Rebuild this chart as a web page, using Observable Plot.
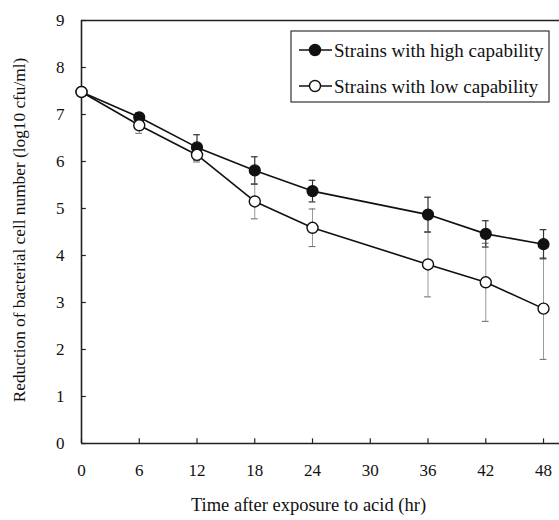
<!DOCTYPE html>
<html><head><meta charset="utf-8">
<script src="https://cdn.jsdelivr.net/npm/d3@7"></script>
<script src="https://cdn.jsdelivr.net/npm/@observablehq/plot@0.6"></script>
<style>body{margin:0;background:#fff}</style>
</head><body><div id="chart"></div>
<script>
const times = [0, 6, 12, 18, 24, 36, 42, 48];
const highMean = [7.48, 6.94, 6.30, 5.81, 5.37, 4.87, 4.46, 4.24];
const highErr  = [0, 0.10, 0.27, 0.29, 0.23, 0.37, 0.28, 0.31];
const lowMean  = [7.48, 6.77, 6.14, 5.15, 4.59, 3.81, 3.43, 2.87];
const lowErr   = [0, 0.17, 0.15, 0.37, 0.40, 0.69, 0.83, 1.08];
const xTicks = [0, 6, 12, 18, 24, 30, 36, 42, 48];
const yTicks = [0, 1, 2, 3, 4, 5, 6, 7, 8, 9];
const seriesNames = ["Strains with high capability", "Strains with low capability"];

const high = times.map((t, i) => ({t, v: highMean[i], e: highErr[i]}));
const low = times.map((t, i) => ({t, v: lowMean[i], e: lowErr[i]}));
const highE = high.filter(d => d.e > 0);
const lowE = low.filter(d => d.e > 0);

const font = "'Liberation Serif', 'Times New Roman', serif";
const cap = 0.35;

const plot = Plot.plot({
  width: 559, height: 520,
  marginLeft: 81, marginRight: 0, marginTop: 20, marginBottom: 77,
  style: {fontFamily: font, fontSize: "17px", color: "#111", background: "#fff"},
  x: {domain: [0, 49.66]},
  y: {domain: [0, 9]},
  marks: [
    Plot.axisX(xTicks, {tickSize: 0, tickPadding: 20, fontSize: 17, label: null}),
    Plot.axisY(yTicks, {tickSize: 0, tickPadding: 17, fontSize: 17, label: null}),
    Plot.ruleY(yTicks, {x1: 0, x2: 0.5, stroke: "#222", strokeWidth: 1.2}),
    Plot.ruleX(xTicks, {y1: 0, y2: 0.1, stroke: "#222", strokeWidth: 1.2}),
    Plot.ruleX([0], {stroke: "#222", strokeWidth: 1.6}),
    Plot.ruleY([0, 9], {stroke: "#222", strokeWidth: 1.6}),
    // low error bars (light)
    Plot.ruleX(lowE, {x: "t", y1: d => d.v - d.e, y2: d => d.v + d.e, stroke: "#999", strokeWidth: 1}),
    Plot.ruleY(lowE, {y: d => d.v - d.e, x1: d => d.t - cap, x2: d => d.t + cap, stroke: "#666", strokeWidth: 1}),
    Plot.ruleY(lowE, {y: d => d.v + d.e, x1: d => d.t - cap, x2: d => d.t + cap, stroke: "#666", strokeWidth: 1}),
    // high error bars (dark)
    Plot.ruleX(highE, {x: "t", y1: d => d.v - d.e, y2: d => d.v + d.e, stroke: "#333", strokeWidth: 1.2}),
    Plot.ruleY(highE, {y: d => d.v - d.e, x1: d => d.t - cap, x2: d => d.t + cap, stroke: "#333", strokeWidth: 1.2}),
    Plot.ruleY(highE, {y: d => d.v + d.e, x1: d => d.t - cap, x2: d => d.t + cap, stroke: "#333", strokeWidth: 1.2}),
    Plot.line(high, {x: "t", y: "v", stroke: "#111", strokeWidth: 1.6}),
    Plot.line(low, {x: "t", y: "v", stroke: "#111", strokeWidth: 1.6}),
    Plot.dot(high, {x: "t", y: "v", r: 5.5, fill: "#111", stroke: "#111", strokeWidth: 1.2}),
    Plot.dot(low, {x: "t", y: "v", r: 5.5, fill: "#fff", stroke: "#111", strokeWidth: 1.4}),
    Plot.text(["Time after exposure to acid (hr)"], {frameAnchor: "bottom", dx: -12, dy: 67, fontSize: 18.5, fill: "#111", textAnchor: "middle"}),
    Plot.text(["Reduction of bacterial cell number (log10 cfu/ml)"], {frameAnchor: "left", dx: -62, dy: -2, rotate: -90, fontSize: 17.3, fill: "#111", textAnchor: "middle"})
  ]
});

// legend inside the plot area
const svg = d3.select(plot);
const g = svg.append("g").attr("font-family", font).attr("font-size", 19).attr("text-anchor", "start");
g.append("rect").attr("x", 291).attr("y", 31).attr("width", 258).attr("height", 71)
  .attr("fill", "#fff").attr("stroke", "#333").attr("stroke-width", 1.2);
seriesNames.forEach((name, i) => {
  const yy = 50 + i * 36;
  g.append("line").attr("x1", 299).attr("x2", 332).attr("y1", yy).attr("y2", yy)
    .attr("stroke", "#111").attr("stroke-width", 1.6);
  g.append("circle").attr("cx", 315).attr("cy", yy).attr("r", 5.5)
    .attr("fill", i === 0 ? "#111" : "#fff").attr("stroke", "#111").attr("stroke-width", 1.4);
  g.append("text").attr("x", 334).attr("y", yy).attr("dy", "0.35em").attr("fill", "#111").text(name);
});

document.getElementById("chart").appendChild(plot);
</script>
</body></html>
